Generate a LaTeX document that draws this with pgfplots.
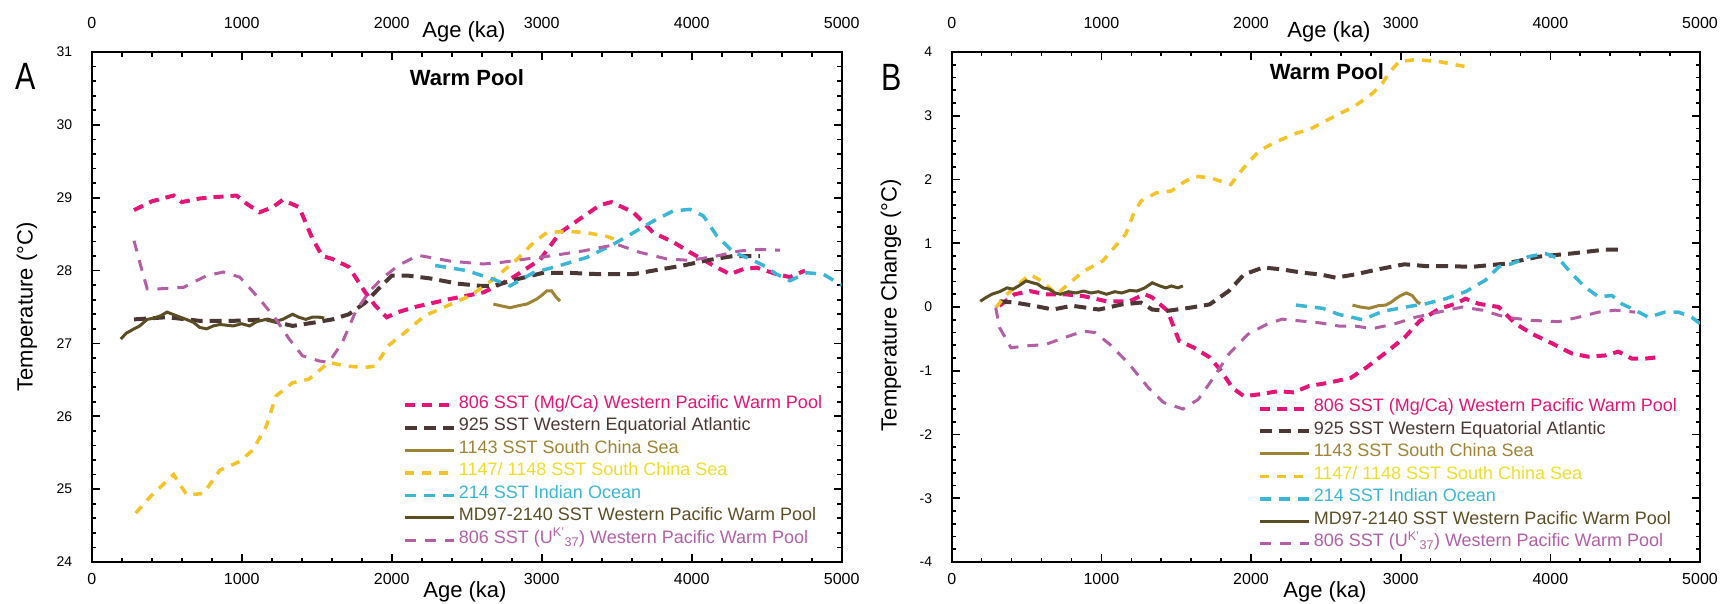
\documentclass[border=0pt]{standalone}
\usepackage{pgfplots}
\pgfplotsset{compat=1.18}
\usepackage{fontspec}
\setmainfont{Liberation Sans}
\definecolor{c806}{RGB}{229,20,120}
\definecolor{c925}{RGB}{75,55,52}
\definecolor{c1143}{RGB}{158,132,52}
\definecolor{c1147}{RGB}{245,195,40}
\definecolor{t1147}{RGB}{238,222,40}
\definecolor{c214}{RGB}{60,182,215}
\definecolor{cmd}{RGB}{92,78,36}
\definecolor{cuk}{RGB}{180,95,165}
\newcommand\ls{\rule[-8.5pt]{0pt}{22.5pt}}
\pgfplotsset{
  base/.style={
    scale only axis, height=510pt,
    xmin=0, xmax=5000,
    xtick={0,1000,2000,3000,4000,5000},
    xticklabels={0,1000,2000,3000,4000,5000},
    minor x tick num=4, minor y tick num=4,
    tick align=inside, tick pos=both,
    major tick length=8pt, minor tick length=4.5pt,
    every tick/.style={black, line width=1.6pt},
    axis line style={line width=2.4pt},
    xticklabel pos=lower,
    x tick label style={font=\fontsize{16}{16}\selectfont, yshift=-8pt},
    y tick label style={font=\fontsize{14}{14}\selectfont, xshift=-16pt},
    /pgf/number format/assume math mode=true,
    legend cell align=left,
    legend image code/.code={\draw[##1] (0pt,0pt) -- (49pt,0pt);},
    legend style={draw=none, fill=none, inner sep=0pt, outer sep=0pt, row sep=0pt,
      font=\fontsize{18}{18}\selectfont,
      nodes={inner sep=0pt, text height=14pt, text depth=8.5pt},
      /tikz/every odd column/.append style={column sep=3pt}},
  },
  top/.style={
    scale only axis, height=510pt,
    xmin=0, xmax=5000, ymin=0, ymax=1,
    xtick={0,1000,2000,3000,4000,5000},
    xticklabels={0,1000,2000,3000,4000,5000},
    axis x line*=top, axis y line=none,
    axis line style={draw=none}, xtick style={draw=none},
    x tick label style={font=\fontsize{16}{16}\selectfont, yshift=20pt},
  },
  s806/.style={color=c806, line width=4pt, dash pattern=on 10pt off 7pt},
  s925/.style={color=c925, line width=4pt, dash pattern=on 12pt off 7pt},
  s1143/.style={color=c1143, line width=3pt},
  s1147/.style={color=c1147, line width=3.5pt, dash pattern=on 9pt off 8pt},
  s214/.style={color=c214, line width=3.5pt, dash pattern=on 11pt off 8pt},
  smd/.style={color=cmd, line width=3pt},
  suk/.style={color=cuk, line width=3pt, dash pattern=on 11pt off 9pt},
}
\begin{document}
\begin{tikzpicture}
\useasboundingbox (0pt,0pt) rectangle (1736pt,603pt);
% ---------------- Panel A ----------------
\begin{axis}[base, at={(91.7pt,41pt)}, anchor=south west, width=750pt,
  ymin=24, ymax=31, ytick={24,25,26,27,28,29,30,31},
  yticklabels={24,25,26,27,28,29,30,31},
  legend style={at={(0.415,0.329)}, anchor=north west}]
\addplot[s806] coordinates {(282,28.83)(400,28.95)(546,29.03)(601,28.94)(722,28.99)(833,29.01)(965,29.03)(1031,28.92)(1119,28.80)(1207,28.87)(1273,28.97)(1383,28.87)(1471,28.44)(1537,28.20)(1604,28.16)(1714,28.05)(1824,27.70)(1890,27.52)(1967,27.36)(2044,27.43)(2154,27.50)(2389,27.61)(2611,27.70)(2789,27.88)(2989,28.15)(3122,28.52)(3255,28.71)(3389,28.90)(3466,28.94)(3611,28.80)(3744,28.52)(3878,28.39)(3989,28.25)(4144,28.07)(4255,27.95)(4344,28.02)(4433,28.04)(4566,27.95)(4655,27.91)(4755,28.00)};
\addlegendentry{\ls\textcolor{c806}{806 SST (Mg/Ca) Western Pacific Warm Pool}}
\addplot[s925] coordinates {(282,27.33)(502,27.36)(722,27.31)(943,27.31)(1163,27.33)(1339,27.24)(1493,27.29)(1604,27.33)(1714,27.40)(1824,27.56)(1912,27.75)(2000,27.93)(2111,27.93)(2264,27.89)(2441,27.82)(2595,27.79)(2678,27.79)(2833,27.88)(3011,27.97)(3166,27.97)(3389,27.95)(3611,27.95)(3744,28.00)(3944,28.07)(4100,28.14)(4278,28.20)(4455,28.20)};
\addlegendentry{\ls\textcolor{c925}{925 SST Western Equatorial Atlantic}}
\addplot[s1143] coordinates {(2678,27.54)(2720,27.52)(2789,27.49)(2850,27.52)(2900,27.54)(2940,27.58)(2967,27.61)(3000,27.66)(3033,27.72)(3066,27.72)(3095,27.64)(3122,27.58)};
\addlegendentry{\ls\textcolor{c1143}{1143 SST South China Sea}}
\addplot[s1147] coordinates {(293,24.67)(392,24.90)(546,25.20)(634,24.92)(744,24.94)(855,25.26)(987,25.38)(1075,25.54)(1163,25.86)(1229,26.28)(1339,26.46)(1449,26.51)(1581,26.74)(1692,26.69)(1824,26.67)(1890,26.69)(1978,26.97)(2088,27.15)(2220,27.38)(2374,27.52)(2529,27.66)(2683,27.89)(2833,28.15)(2944,28.38)(3033,28.52)(3166,28.54)(3300,28.52)(3433,28.47)(3522,28.40)};
\addlegendentry{\ls\textcolor{t1147}{1147/ 1148 SST South China Sea}}
\addplot[s214] coordinates {(2290,28.07)(2500,28.00)(2678,27.88)(2789,27.79)(2944,27.97)(3122,28.07)(3300,28.18)(3477,28.36)(3611,28.52)(3744,28.68)(3878,28.82)(3989,28.84)(4078,28.75)(4166,28.48)(4278,28.25)(4389,28.16)(4478,28.07)(4566,27.95)(4655,27.86)(4766,27.97)(4878,27.95)(4966,27.84)(5000,27.80)};
\addlegendentry{\ls\textcolor{c214}{214 SST Indian Ocean}}
\addplot[smd] coordinates {(194,27.06)(230,27.14)(282,27.20)(320,27.24)(370,27.33)(420,27.35)(460,27.38)(502,27.43)(540,27.40)(590,27.36)(630,27.33)(678,27.29)(720,27.22)(766,27.20)(810,27.24)(855,27.26)(900,27.25)(943,27.24)(1000,27.27)(1053,27.24)(1100,27.30)(1163,27.33)(1220,27.30)(1273,27.33)(1339,27.40)(1380,27.36)(1427,27.33)(1470,27.36)(1515,27.36)(1550,27.35)};
\addlegendentry{\ls\textcolor{cmd}{MD97-2140 SST Western Pacific Warm Pool}}
\addplot[suk] coordinates {(282,28.41)(326,28.07)(370,27.75)(458,27.75)(612,27.77)(766,27.93)(877,27.98)(987,27.91)(1119,27.61)(1229,27.33)(1317,27.06)(1405,26.83)(1515,26.76)(1581,26.74)(1670,27.01)(1758,27.43)(1846,27.70)(1934,27.89)(2044,28.07)(2176,28.21)(2389,28.13)(2611,28.09)(2722,28.11)(2900,28.16)(3055,28.20)(3277,28.27)(3500,28.36)(3655,28.25)(3833,28.16)(3989,28.14)(4166,28.20)(4322,28.27)(4455,28.29)(4589,28.28)};
\addlegendentry{\ls\textcolor{cuk}{806 SST (U\textsuperscript{K'}\textsubscript{37}) Western Pacific Warm Pool}}
\end{axis}
\begin{axis}[top, at={(91.7pt,41pt)}, anchor=south west, width=750pt]
\end{axis}
% ---------------- Panel B ----------------
\begin{axis}[base, at={(951.7pt,41pt)}, anchor=south west, width=748.3pt,
  ymin=-4, ymax=4, ytick={-4,-3,-2,-1,0,1,2,3,4},
  yticklabels={-4,-3,-2,-1,0,1,2,3,4},
  legend style={at={(0.409,0.3225)}, anchor=north west}]
\addplot[s806] coordinates {(319,0.02)(421,0.20)(523,0.25)(625,0.20)(753,0.20)(881,0.17)(1034,0.09)(1187,0.09)(1289,0.20)(1340,0.15)(1442,-0.06)(1519,-0.53)(1621,-0.64)(1723,-0.79)(1800,-1.00)(1876,-1.27)(1953,-1.40)(2055,-1.37)(2183,-1.32)(2285,-1.34)(2387,-1.24)(2515,-1.19)(2668,-1.11)(2770,-0.95)(2898,-0.72)(3025,-0.48)(3127,-0.22)(3255,-0.03)(3366,0.05)(3433,0.13)(3522,0.05)(3655,0.00)(3766,-0.26)(3877,-0.42)(4011,-0.57)(4144,-0.73)(4255,-0.78)(4366,-0.76)(4455,-0.70)(4544,-0.81)(4633,-0.81)(4744,-0.78)};
\addlegendentry{\ls\textcolor{c806}{806 SST (Mg/Ca) Western Pacific Warm Pool}}
\addplot[s925] coordinates {(319,0.09)(421,0.07)(549,0.02)(676,-0.04)(804,0.02)(983,-0.04)(1136,0.04)(1264,0.07)(1340,-0.04)(1442,-0.06)(1596,-0.01)(1723,0.04)(1851,0.25)(1953,0.51)(2081,0.62)(2208,0.59)(2336,0.54)(2464,0.51)(2566,0.46)(2693,0.51)(2847,0.59)(3025,0.67)(3179,0.64)(3332,0.64)(3477,0.63)(3700,0.68)(3922,0.79)(4144,0.84)(4366,0.90)(4455,0.90)};
\addlegendentry{\ls\textcolor{c925}{925 SST Western Equatorial Atlantic}}
\addplot[s1143] coordinates {(2678,0.03)(2730,0.00)(2789,-0.02)(2850,0.02)(2900,0.03)(2940,0.08)(2966,0.13)(3000,0.18)(3038,0.22)(3077,0.18)(3111,0.08)(3130,0.05)};
\addlegendentry{\ls\textcolor{c1143}{1143 SST South China Sea}}
\addplot[s1147] coordinates {(294,-0.01)(370,0.20)(472,0.41)(523,0.51)(600,0.41)(702,0.20)(779,0.36)(881,0.56)(1008,0.72)(1085,0.93)(1162,1.14)(1213,1.45)(1264,1.66)(1366,1.79)(1468,1.82)(1545,1.95)(1621,2.05)(1723,2.03)(1825,1.95)(1864,1.92)(1953,2.19)(2055,2.45)(2157,2.58)(2285,2.71)(2412,2.81)(2540,2.97)(2693,3.15)(2811,3.35)(2878,3.51)(2922,3.67)(2989,3.85)(3100,3.88)(3255,3.85)(3433,3.77)};
\addlegendentry{\ls\textcolor{t1147}{1147/ 1148 SST South China Sea}}
\addplot[s214] coordinates {(2300,0.03)(2477,-0.02)(2591,-0.12)(2655,-0.15)(2744,-0.20)(2878,-0.07)(3033,0.00)(3166,0.05)(3300,0.13)(3433,0.24)(3566,0.42)(3655,0.63)(3744,0.68)(3855,0.79)(3966,0.84)(4055,0.76)(4144,0.52)(4233,0.31)(4322,0.16)(4411,0.18)(4477,0.05)(4566,-0.05)(4655,-0.16)(4766,-0.08)(4855,-0.08)(4944,-0.16)(5000,-0.26)};
\addlegendentry{\ls\textcolor{c214}{214 SST Indian Ocean}}
\addplot[smd] coordinates {(191,0.09)(230,0.15)(268,0.20)(320,0.24)(370,0.30)(410,0.28)(447,0.33)(498,0.41)(540,0.38)(574,0.36)(610,0.30)(651,0.28)(690,0.22)(728,0.20)(780,0.24)(830,0.22)(880,0.25)(932,0.22)(980,0.24)(1034,0.20)(1090,0.24)(1136,0.22)(1190,0.26)(1238,0.25)(1290,0.30)(1340,0.38)(1391,0.33)(1430,0.30)(1468,0.33)(1510,0.30)(1545,0.33)};
\addlegendentry{\ls\textcolor{cmd}{MD97-2140 SST Western Pacific Warm Pool}}
\addplot[suk] coordinates {(294,-0.01)(319,-0.32)(396,-0.64)(498,-0.61)(625,-0.59)(753,-0.48)(881,-0.38)(957,-0.40)(1059,-0.59)(1187,-0.90)(1315,-1.27)(1417,-1.50)(1545,-1.60)(1647,-1.45)(1749,-1.11)(1851,-0.74)(1978,-0.43)(2106,-0.27)(2208,-0.19)(2336,-0.22)(2464,-0.25)(2591,-0.30)(2700,-0.30)(2811,-0.34)(2966,-0.26)(3100,-0.16)(3255,-0.08)(3411,0.00)(3544,-0.05)(3700,-0.16)(3877,-0.21)(4055,-0.23)(4189,-0.16)(4322,-0.08)(4433,-0.05)(4566,-0.08)};
\addlegendentry{\ls\textcolor{cuk}{806 SST (U\textsuperscript{K'}\textsubscript{37}) Western Pacific Warm Pool}}
\end{axis}
\begin{axis}[top, at={(951.7pt,41pt)}, anchor=south west, width=748.3pt]
\end{axis}
% ---------------- Labels ----------------
\def\lf{\fontsize{22}{22}\selectfont}
\node[font=\lf] at (464pt,571pt) {Age (ka)};
\node[font=\lf] at (1329pt,571pt) {Age (ka)};
\node[font=\lf] at (465pt,11pt) {Age (ka)};
\node[font=\lf] at (1325pt,11pt) {Age (ka)};
\node[font=\lf, rotate=90] at (27pt,296pt) {Temperature (°C)};
\node[font=\lf, rotate=90] at (891pt,298pt) {Temperature Change (°C)};
\node[font=\lf\bfseries] at (467pt,525pt) {Warm Pool};
\node[font=\lf\bfseries] at (1327pt,531pt) {Warm Pool};
\node[font=\fontsize{38}{38}\selectfont, xscale=0.8] at (26pt,527pt) {A};
\node[font=\fontsize{38}{38}\selectfont, xscale=0.8] at (892pt,526pt) {B};
\end{tikzpicture}
\end{document}
